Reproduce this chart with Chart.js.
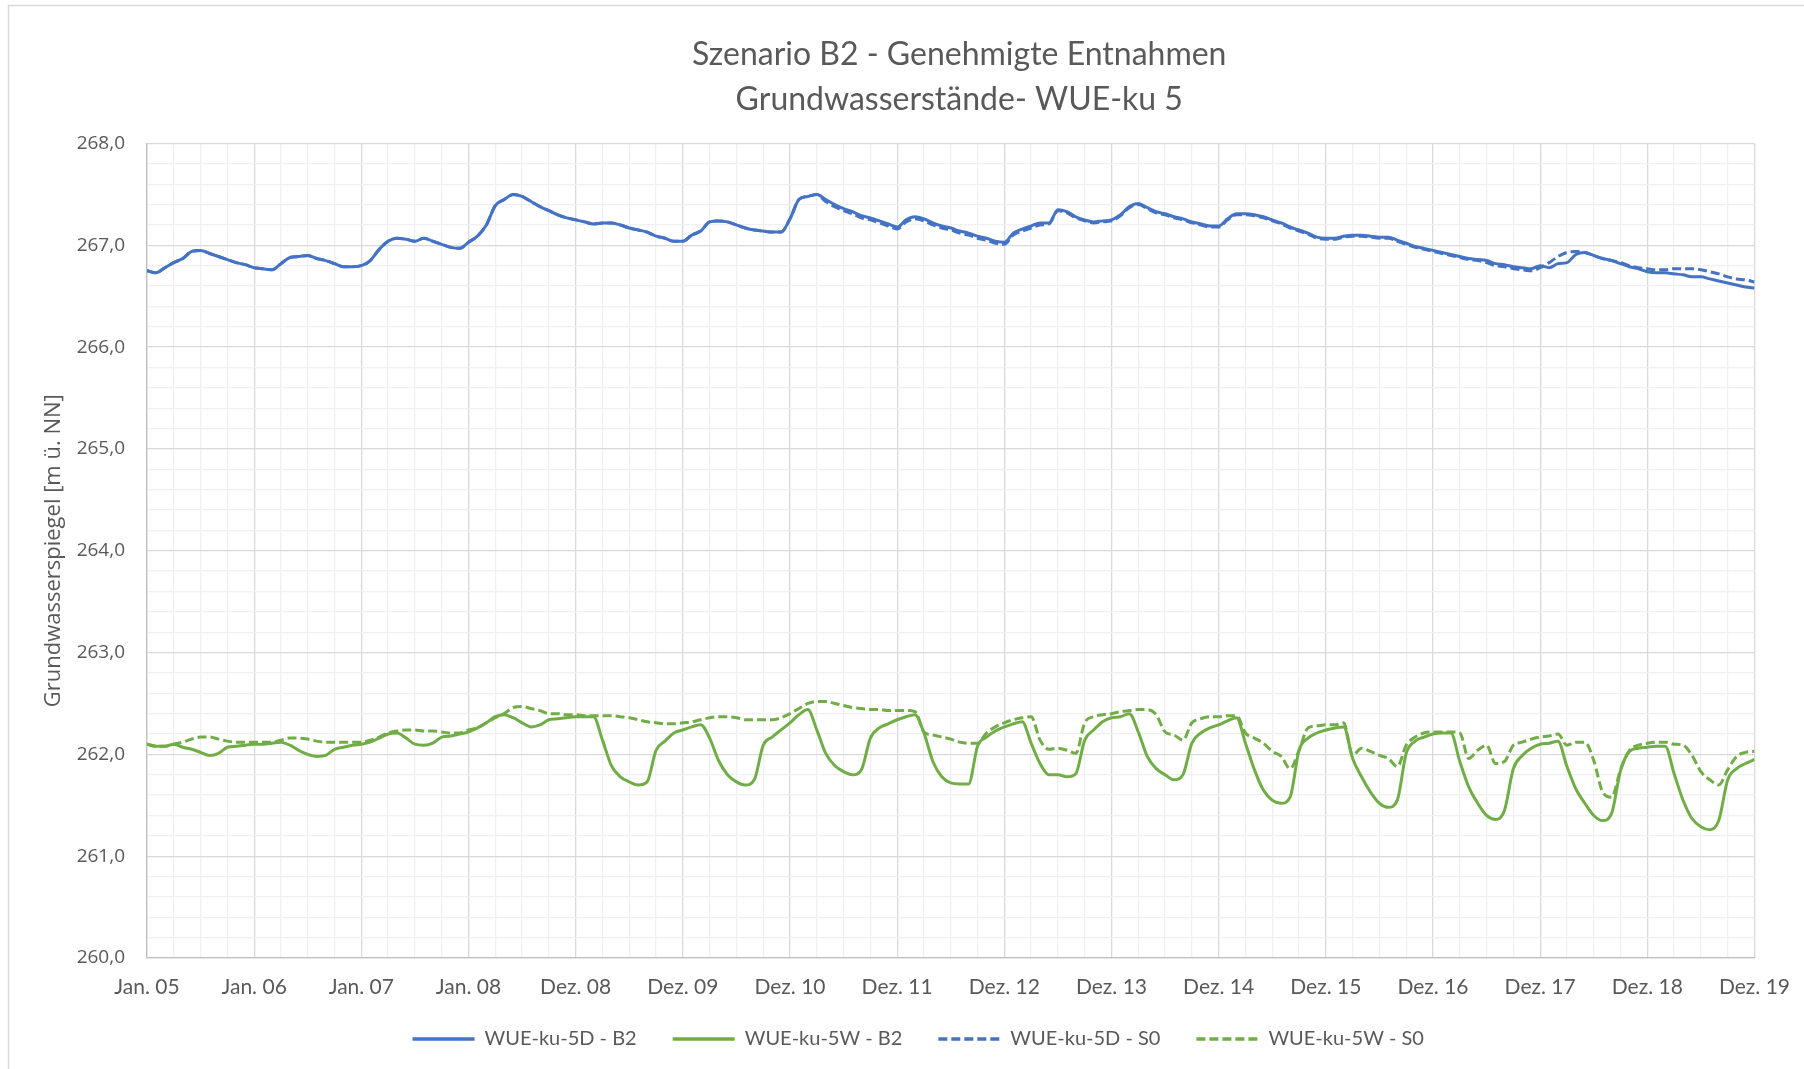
<!DOCTYPE html>
<html><head><meta charset="utf-8">
<script src="https://cdn.jsdelivr.net/npm/chart.js@4.4.1/dist/chart.umd.min.js"></script>
<style>html,body{margin:0;padding:0;background:#fff}#wrap{width:1804px;height:1069px;position:relative}</style>
</head><body><div id="wrap"><canvas id="c" width="1804" height="1069"></canvas></div>
<script>
const titleLines = ['Szenario B2 - Genehmigte Entnahmen', 'Grundwasserstände- WUE-ku 5'];
const yAxisTitle = 'Grundwasserspiegel [m ü. NN]';
const xTickLabels = ['Jan. 05','Jan. 06','Jan. 07','Jan. 08','Dez. 08','Dez. 09','Dez. 10','Dez. 11','Dez. 12','Dez. 13','Dez. 14','Dez. 15','Dez. 16','Dez. 17','Dez. 18','Dez. 19'];
const yTickLabels = ['260,0','261,0','262,0','263,0','264,0','265,0','266,0','267,0','268,0'];
const seriesNames = ['WUE-ku-5D - B2','WUE-ku-5W - B2','WUE-ku-5D - S0','WUE-ku-5W - S0'];

const blueB2 = [266.75,266.73,266.78,266.83,266.87,266.94,266.95,266.92,266.89,266.86,266.83,266.81,
266.78,266.77,266.76,266.82,266.88,266.89,266.90,266.87,266.85,266.82,266.79,266.79,
266.80,266.85,266.96,267.04,267.07,267.06,267.04,267.07,267.04,267.01,266.98,266.97,
267.03,267.09,267.20,267.39,267.45,267.50,267.48,267.43,267.38,267.34,267.30,267.27,
267.25,267.23,267.21,267.22,267.22,267.20,267.17,267.15,267.13,267.09,267.07,267.04,
267.04,267.10,267.14,267.23,267.24,267.23,267.20,267.17,267.15,267.14,267.13,267.13,
267.26,267.45,267.48,267.50,267.45,267.40,267.36,267.33,267.29,267.27,267.24,267.21,
267.18,267.25,267.28,267.26,267.22,267.19,267.17,267.14,267.12,267.09,267.07,267.04,
267.03,267.12,267.16,267.19,267.22,267.22,267.35,267.33,267.28,267.25,267.23,267.24,
267.25,267.30,267.38,267.41,267.37,267.33,267.31,267.28,267.26,267.23,267.21,267.19,
267.19,267.26,267.31,267.31,267.30,267.28,267.25,267.22,267.18,267.15,267.12,267.08,
267.07,267.07,267.09,267.10,267.10,267.09,267.08,267.08,267.05,267.02,266.99,266.97,
266.95,266.93,266.91,266.89,266.87,266.86,266.85,266.82,266.81,266.79,266.78,266.77,
266.80,266.78,266.82,266.83,266.91,266.93,266.90,266.87,266.85,266.82,266.79,266.77,
266.74,266.73,266.73,266.72,266.71,266.69,266.69,266.67,266.65,266.63,266.61,266.59,
266.58];

const greenB2 = [262.10,262.08,262.08,262.10,262.07,262.05,262.02,261.99,262.01,262.07,262.08,262.09,
262.10,262.10,262.11,262.12,262.09,262.04,262.00,261.98,261.99,262.05,262.07,262.09,
262.10,262.12,262.16,262.20,262.21,262.16,262.10,262.09,262.11,262.17,262.18,262.20,
262.22,262.26,262.31,262.37,262.39,262.36,262.31,262.27,262.29,262.34,262.35,262.36,
262.37,262.37,262.37,262.14,261.89,261.78,261.73,261.70,261.73,262.04,262.13,262.21,
262.24,262.27,262.29,262.16,261.94,261.80,261.73,261.70,261.75,262.09,262.17,262.24,
262.31,262.39,262.44,262.24,262.01,261.89,261.83,261.80,261.85,262.16,262.26,262.30,
262.34,262.37,262.39,262.21,261.93,261.78,261.72,261.71,261.71,262.08,262.17,262.23,
262.27,262.30,262.32,262.11,261.91,261.80,261.80,261.78,261.81,262.14,262.24,262.32,
262.36,262.37,262.40,262.22,261.98,261.86,261.80,261.75,261.80,262.11,262.21,262.26,
262.29,262.33,262.36,262.11,261.85,261.65,261.55,261.52,261.58,262.04,262.16,262.21,
262.24,262.26,262.27,261.96,261.78,261.63,261.52,261.48,261.55,262.01,262.13,262.17,
262.20,262.21,262.21,261.93,261.68,261.52,261.40,261.36,261.45,261.86,261.99,262.06,
262.10,262.11,262.13,261.88,261.66,261.52,261.40,261.35,261.42,261.84,262.03,262.06,
262.07,262.08,262.08,261.81,261.55,261.37,261.29,261.26,261.35,261.75,261.86,261.91,
261.95];

const blueS0 = [266.75,266.73,266.78,266.83,266.87,266.94,266.95,266.92,266.89,266.86,266.83,266.81,
266.78,266.77,266.76,266.82,266.88,266.89,266.90,266.87,266.85,266.82,266.79,266.79,
266.80,266.85,266.96,267.04,267.07,267.06,267.04,267.07,267.04,267.01,266.98,266.97,
267.03,267.09,267.20,267.39,267.45,267.50,267.48,267.43,267.38,267.34,267.30,267.27,
267.25,267.23,267.21,267.22,267.22,267.20,267.17,267.15,267.13,267.09,267.07,267.04,
267.04,267.10,267.14,267.23,267.24,267.23,267.20,267.17,267.15,267.14,267.13,267.13,
267.26,267.45,267.48,267.50,267.43,267.38,267.34,267.31,267.27,267.25,267.22,267.19,
267.16,267.23,267.26,267.24,267.20,267.17,267.15,267.12,267.10,267.07,267.05,267.02,
267.01,267.10,267.14,267.17,267.20,267.21,267.34,267.32,267.27,267.24,267.22,267.23,
267.24,267.29,267.37,267.40,267.36,267.32,267.30,267.27,267.25,267.22,267.20,267.18,
267.18,267.25,267.30,267.30,267.29,267.27,267.24,267.21,267.17,267.14,267.11,267.07,
267.06,267.06,267.08,267.09,267.09,267.08,267.07,267.07,267.04,267.01,266.98,266.96,
266.94,266.92,266.90,266.88,266.86,266.85,266.83,266.80,266.79,266.77,266.76,266.75,
266.78,266.83,266.89,266.93,266.94,266.93,266.90,266.87,266.85,266.83,266.80,266.78,
266.77,266.76,266.76,266.77,266.77,266.77,266.76,266.74,266.72,266.69,266.67,266.66,
266.64];

const greenS0 = [262.10,262.08,262.08,262.10,262.12,262.15,262.17,262.17,262.15,262.13,262.12,262.12,
262.12,262.12,262.12,262.14,262.16,262.16,262.15,262.13,262.12,262.12,262.12,262.12,
262.12,262.14,262.17,262.21,262.23,262.24,262.24,262.23,262.23,262.22,262.21,262.21,
262.24,262.26,262.31,262.36,262.40,262.46,262.47,262.45,262.43,262.40,262.40,262.39,
262.39,262.38,262.38,262.38,262.38,262.37,262.36,262.34,262.32,262.31,262.30,262.30,
262.31,262.32,262.34,262.36,262.37,262.37,262.36,262.34,262.34,262.34,262.34,262.36,
262.40,262.45,262.50,262.52,262.52,262.50,262.48,262.46,262.45,262.44,262.44,262.43,
262.43,262.43,262.42,262.22,262.19,262.17,262.15,262.12,262.11,262.11,262.21,262.27,
262.31,262.34,262.36,262.37,262.14,262.05,262.06,262.04,262.01,262.31,262.37,262.39,
262.40,262.42,262.43,262.44,262.44,262.39,262.22,262.19,262.14,262.31,262.35,262.37,
262.37,262.38,262.38,262.21,262.16,262.11,262.03,261.98,261.86,262.04,262.26,262.28,
262.29,262.29,262.31,261.99,262.06,262.03,261.99,261.96,261.88,262.09,262.17,262.21,
262.22,262.22,262.22,262.21,261.96,262.04,262.09,261.91,261.93,262.09,262.12,262.15,
262.17,262.18,262.20,262.09,262.12,262.12,261.94,261.63,261.58,261.85,262.04,262.09,
262.11,262.12,262.12,262.10,262.09,261.99,261.83,261.75,261.70,261.85,261.98,262.02,
262.03];

const BLUE = '#4472C4', GREEN = '#70AD47';
const toXY = arr => arr.map((v, i) => ({x: i, y: v}));

const frame = {
  id: 'frame',
  beforeDraw(chart) {
    const c = chart.ctx;
    c.save();
    c.fillStyle = '#ffffff';
    c.fillRect(0, 0, chart.width, chart.height);
    c.strokeStyle = '#d9d9d9';
    c.lineWidth = 1.5;
    c.strokeRect(8.5, 5.5, chart.width + 10, chart.height + 10);
    c.restore();
  }
};
const shift = {
  id: 'shift',
  afterLayout(chart) {
    const t = chart.titleBlock, l = chart.legend;
    if (t) { t.left += 82; t.right += 82; }
    if (l) { l.left += 41; l.right += 41; l.top -= 10; l.bottom -= 10; }
  }
};

Chart.defaults.color = '#595959';
Chart.defaults.font.family = 'Lato, sans-serif';

new Chart(document.getElementById('c'), {
  type: 'line',
  data: {
    datasets: [
      {label: seriesNames[0], data: toXY(blueB2), borderColor: BLUE, backgroundColor: BLUE, borderWidth: 3},
      {label: seriesNames[1], data: toXY(greenB2), borderColor: GREEN, backgroundColor: GREEN, borderWidth: 3},
      {label: seriesNames[2], data: toXY(blueS0), borderColor: BLUE, backgroundColor: BLUE, borderWidth: 3, borderDash: [9, 4]},
      {label: seriesNames[3], data: toXY(greenS0), borderColor: GREEN, backgroundColor: GREEN, borderWidth: 3, borderDash: [9, 4]}
    ]
  },
  options: {
    responsive: false,
    animation: false,
    events: [],
    layout: {padding: {top: 0, left: 0, right: 49.5, bottom: 0}},
    elements: {
      point: {radius: 0},
      line: {fill: false, cubicInterpolationMode: 'monotone', borderCapStyle: 'butt', borderJoinStyle: 'round'}
    },
    scales: {
      x: {
        type: 'linear', min: 0, max: 180,
        afterFit(s) { s.height = 45; s.paddingRight = 0; s.paddingLeft = 0; },
        border: {color: '#bfbfbf', width: 1.3},
        grid: {
          drawTicks: false,
          lineWidth: 1.3,
          color: ctx => (ctx.tick && ctx.tick.value % 12 === 0) ? '#d9d9d9' : '#f0f0f0'
        },
        ticks: {
          stepSize: 3, autoSkip: false, maxRotation: 0, minRotation: 0, padding: 17,
          font: {size: 21},
          callback: v => (v % 12 === 0) ? xTickLabels[v / 12] : ''
        }
      },
      y: {
        min: 260, max: 268,
        afterFit(s) { s.width = 147; },
        border: {color: '#bfbfbf', width: 1.3},
        grid: {
          drawTicks: false,
          lineWidth: 1.3,
          color: ctx => (ctx.tick && Math.abs(ctx.tick.value - Math.round(ctx.tick.value)) < 1e-6) ? '#d9d9d9' : '#f0f0f0'
        },
        ticks: {
          stepSize: 0.2, autoSkip: false, padding: 22,
          font: {family: '"Open Sans", sans-serif', size: 19},
          callback: v => (Math.abs(v - Math.round(v)) < 1e-6) ? yTickLabels[Math.round(v) - 260] : ''
        },
        title: {
          display: true, text: yAxisTitle,
          font: {family: '"Open Sans", sans-serif', size: 22}, padding: {top: 40.8, bottom: 0}
        }
      }
    },
    plugins: {
      title: {
        display: true, text: titleLines,
        font: {size: 32, weight: 'normal', lineHeight: 1.40625},
        padding: {top: 32.5, bottom: 21}
      },
      legend: {
        position: 'bottom',
        labels: {
          usePointStyle: true, pointStyle: 'line', pointStyleWidth: 62,
          padding: 36, font: {size: 20},
          generateLabels(chart) {
            const items = Chart.defaults.plugins.legend.labels.generateLabels(chart);
            items.forEach(it => {
              const ds = chart.data.datasets[it.datasetIndex];
              it.lineDash = ds.borderDash || [];
              it.lineWidth = 3.5;
              it.strokeStyle = ds.borderColor;
              it.pointStyle = 'line';
              it.lineCap = 'butt';
            });
            return items;
          }
        }
      },
      tooltip: {enabled: false}
    }
  },
  plugins: [frame, shift]
});
</script></body></html>
